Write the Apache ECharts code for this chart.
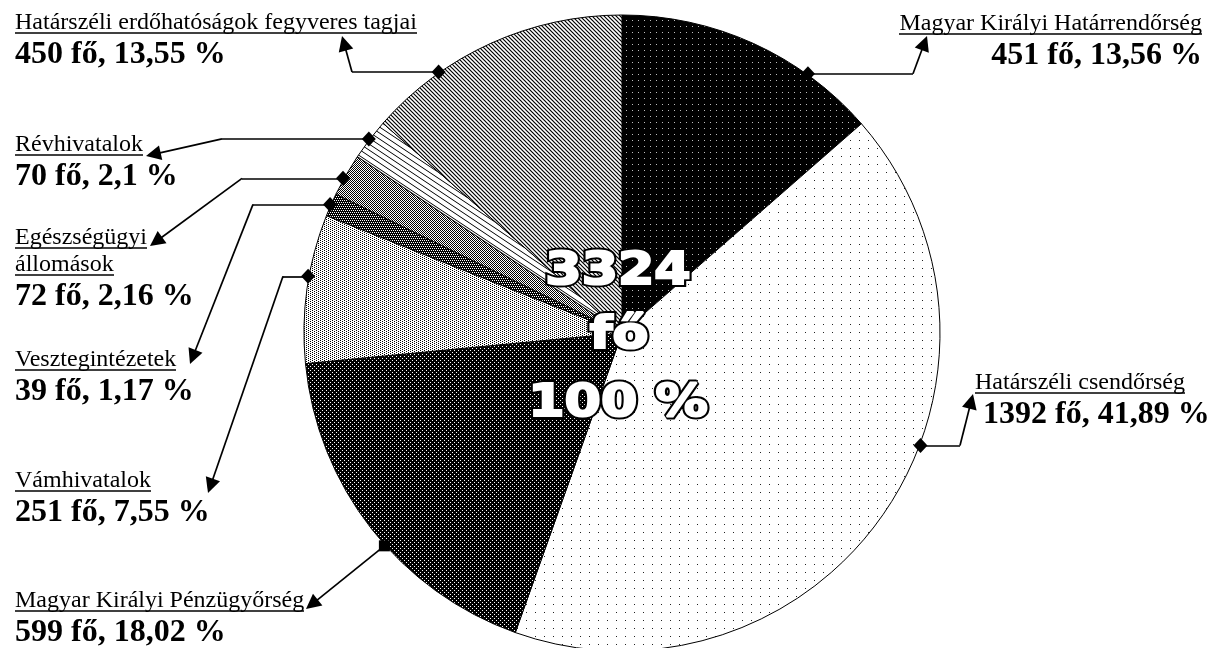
<!DOCTYPE html>
<html>
<head>
<meta charset="utf-8">
<script src="https://cdn.jsdelivr.net/npm/echarts@6/dist/echarts.min.js"></script>
<style>
html,body{margin:0;padding:0;background:#fff;}
#c{width:1212px;height:648px;}
</style>
</head>
<body>
<div id="c"></div>
<script>
// ---- data ----
const categories = [
  'Magyar Királyi Határrendőrség',
  'Határszéli csendőrség',
  'Magyar Királyi Pénzügyőrség',
  'Vámhivatalok',
  'Vesztegintézetek',
  'Egészségügyi állomások',
  'Révhivatalok',
  'Határszéli erdőhatóságok fegyveres tagjai'
];
const counts = [451, 1392, 599, 251, 39, 72, 70, 450];
const percentLabels = ['13,56', '41,89', '18,02', '7,55', '1,17', '2,16', '2,1', '13,55'];
const unitLabel = 'fő';

// ---- layout (style) ----
const PIE_CX = 622, PIE_CY = 333, PIE_R = 318, ANCHOR_R = 319;
const labelLayoutCfg = [
  {x: 1202, y: 15, align: 'right'},
  {x: 975, y: 374, align: 'left', valuePad: 8},
  {x: 15, y: 592, align: 'left'},
  {x: 15, y: 472, align: 'left'},
  {x: 15, y: 351, align: 'left'},
  {x: 15, y: 229, align: 'left', wrap: true},
  {x: 15, y: 136, align: 'left'},
  {x: 15, y: 14, align: 'left'}
];
const leaderCfg = [
  {frac: 0.73, elbowX: 913, tip: [927, 36], marker: 'diamond'},
  {frac: 0.41, elbowX: 960, tip: [973, 394], marker: 'diamond'},
  {frac: 0.44, elbowX: null, tip: [306, 609], marker: 'rect'},
  {frac: 0.58, elbowX: 283, tip: [208, 493], marker: 'diamond'},
  {frac: 0.50, elbowX: 253, tip: [190, 364], marker: 'diamond'},
  {frac: 0.40, elbowX: 242, tip: [150, 246], marker: 'diamond'},
  {frac: 0.50, elbowX: 222, tip: [146, 156], marker: 'diamond'},
  {frac: 0.28, elbowX: 352, tip: [342, 36], marker: 'diamond'}
];

// ---- patterns ----
function tile(w, h, bg, draw) {
  const c = document.createElement('canvas');
  c.width = w; c.height = h;
  const g = c.getContext('2d');
  g.fillStyle = bg; g.fillRect(0, 0, w, h);
  draw(g, w, h);
  return {image: c, repeat: 'repeat'};
}
function dots(pts, color) {
  return function (g) { g.fillStyle = color; pts.forEach(p => g.fillRect(p[0], p[1], 1, 1)); };
}
function diag(color, lw) {
  return function (g, w, h) {
    g.strokeStyle = color; g.lineWidth = lw;
    for (let k = -1; k <= 1; k++) {
      g.beginPath();
      g.moveTo(-w, -h + k * h);
      g.lineTo(2 * w, 2 * h + k * h);
      g.stroke();
    }
  };
}
const patterns = [
  tile(6, 6, '#000', dots([[2, 2]], '#bdbdbd')),
  tile(9, 8, '#fff', dots([[4, 4]], '#222')),
  tile(4, 4, '#000', dots([[0, 0], [2, 2]], '#fff')),
  tile(4, 2, '#fff', dots([[0, 0], [2, 1]], '#000')),
  tile(4, 4, '#000', dots([[0, 0], [2, 0], [1, 2], [3, 2]], '#fff')),
  tile(2, 2, '#fff', dots([[0, 0], [1, 1]], '#000')),
  tile(9, 6, '#fff', diag('#000', 1)),
  tile(4, 4, '#fff', diag('#000', 1.2))
];

// ---- labels ----
const NAME_FONT = 'Liberation Serif';
const NAME_SIZE = 24, VALUE_SIZE = 32;
const mctx = document.createElement('canvas').getContext('2d');
mctx.font = NAME_SIZE + 'px "' + NAME_FONT + '"';

const total = counts.reduce((a, b) => a + b, 0);

const pieData = categories.map((name, i) => {
  const cfg = labelLayoutCfg[i];
  const lines = cfg.wrap ? name.split(' ') : [name];
  const parts = [];
  const rich = {
    n: {fontFamily: NAME_FONT, fontSize: NAME_SIZE, lineHeight: 18, color: '#000'},
    v: {fontFamily: NAME_FONT, fontSize: VALUE_SIZE, fontWeight: 'bold', lineHeight: 42, color: '#000',
        padding: [0, 0, 0, cfg.valuePad || 0]},
    sp: {fontSize: 1, lineHeight: 7}
  };
  lines.forEach((ln, k) => {
    if (k > 0) parts.push('{sp| }');
    parts.push('{n|' + ln + '}');
    parts.push('{u' + k + '| }');
    rich['u' + k] = {width: Math.round(mctx.measureText(ln).width), height: 1.4, lineHeight: 2,
                     fontSize: 1, backgroundColor: '#000'};
  });
  parts.push('{v|' + counts[i] + ' ' + unitLabel + ', ' + percentLabels[i] + ' %}');
  return {
    name: name,
    value: counts[i],
    itemStyle: {color: patterns[i]},
    label: {formatter: parts.join('\n'), rich: rich, color: '#000'}
  };
});

// ---- leader lines from pie geometry ----
let cum = 0;
const anchors = counts.map((v, i) => {
  const a0 = cum / total * 2 * Math.PI;
  cum += v;
  const a1 = cum / total * 2 * Math.PI;
  const a = a0 + leaderCfg[i].frac * (a1 - a0);
  return [PIE_CX + ANCHOR_R * Math.sin(a), PIE_CY - ANCHOR_R * Math.cos(a)];
});
const ARROW = 15;
const flatSegs = [], arrowSegs = [], markers = [];
anchors.forEach((p, i) => {
  const L = leaderCfg[i];
  let start = p;
  if (L.elbowX !== null) {
    const elbow = [L.elbowX, p[1]];
    flatSegs.push({coords: [p, elbow]});
    start = elbow;
  }
  const dx = L.tip[0] - start[0], dy = L.tip[1] - start[1];
  const d = Math.sqrt(dx * dx + dy * dy);
  const end = [L.tip[0] - dx / d * ARROW / 2, L.tip[1] - dy / d * ARROW / 2];
  arrowSegs.push({coords: [start, end]});
  markers.push({value: p, symbol: L.marker, symbolSize: L.marker === 'rect' ? [11, 11] : [14, 15]});
});

// ---- centre caption (outlined, heavy) ----
const centreLines = [
  {text: String(total), x: 618, y: 272},
  {text: unitLabel, x: 619, y: 336},
  {text: '100 %', x: 618, y: 404}
];
function centreText(t, fill, stroke, lw, z) {
  return {type: 'text', x: t.x, y: t.y, scaleX: 1.16, z: z, silent: true,
    style: {text: t.text, fill: fill, stroke: stroke, lineWidth: lw, lineJoin: 'round',
      fontSize: 45, fontWeight: 'bold', fontFamily: 'DejaVu Sans',
      align: 'center', verticalAlign: 'middle', textAlign: 'center', textVerticalAlign: 'middle'}};
}
const graphics = [];
centreLines.forEach(t => {
  graphics.push(centreText(t, '#000', '#000', 6, 100));
  graphics.push(centreText(t, '#fff', '#fff', 2.2, 101));
});

const chart = echarts.init(document.getElementById('c'), null, {renderer: 'canvas'});
chart.setOption({
  animation: false,
  backgroundColor: '#fff',
  grid: {left: 0, right: 0, top: 0, bottom: 0, containLabel: false},
  xAxis: {type: 'value', min: 0, max: 1212, show: false},
  yAxis: {type: 'value', min: 0, max: 648, inverse: true, show: false},
  series: [
    {
      type: 'pie',
      center: [PIE_CX, PIE_CY],
      radius: PIE_R,
      startAngle: 90,
      clockwise: true,
      avoidLabelOverlap: false,
      minShowLabelAngle: 0,
      silent: true,
      itemStyle: {borderColor: '#000', borderWidth: 1},
      label: {show: true, position: 'outside', color: '#000'},
      labelLine: {show: false},
      labelLayout: function (p) {
        const c = labelLayoutCfg[p.dataIndex];
        return {x: c.x, y: c.y, align: c.align, verticalAlign: 'top'};
      },
      emphasis: {disabled: true},
      data: pieData
    },
    {
      type: 'lines', coordinateSystem: 'cartesian2d', silent: true, z: 5,
      symbol: ['none', 'none'],
      lineStyle: {color: '#000', width: 1.7, opacity: 1, curveness: 0},
      data: flatSegs
    },
    {
      type: 'lines', coordinateSystem: 'cartesian2d', silent: true, z: 5,
      symbol: ['none', 'triangle'], symbolSize: ARROW,
      itemStyle: {color: '#000'},
      lineStyle: {color: '#000', width: 1.7, opacity: 1, curveness: 0},
      data: arrowSegs
    },
    {
      type: 'scatter', coordinateSystem: 'cartesian2d', silent: true, z: 6,
      itemStyle: {color: '#000', opacity: 1},
      data: markers
    }
  ],
  graphic: graphics
});
</script>
</body>
</html>
